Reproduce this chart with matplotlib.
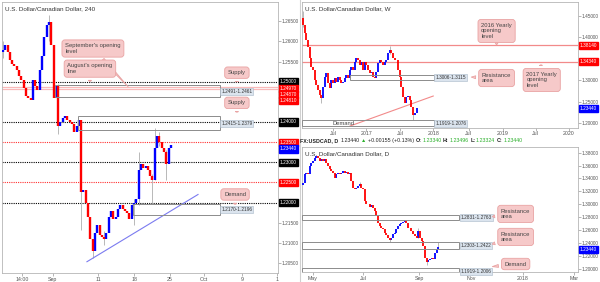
import matplotlib
matplotlib.use("Agg")
import matplotlib.pyplot as plt
import matplotlib.transforms as mtransforms
from matplotlib.patches import Rectangle
from matplotlib.lines import Line2D
import numpy as np

plt.rcParams['font.family'] = ['Liberation Sans', 'DejaVu Sans']

# ---------------- 4H chart (left) ----------------
h4_open0 = 1.2575
h4_close = [1.2580, 1.2590, 1.2575, 1.2555, 1.2545, 1.2540, 1.2530, 1.2515, 1.2505, 1.2485,
            1.2465, 1.2460, 1.2455, 1.2505, 1.2490, 1.2480, 1.2530, 1.2565, 1.2610, 1.2640,
            1.2648, 1.2590, 1.2460, 1.2490, 1.2390, 1.2400, 1.2410, 1.2415, 1.2405, 1.2400,
            1.2395, 1.2375, 1.2390, 1.2405, 1.2225, 1.2230, 1.2200, 1.2165, 1.2110, 1.2080,
            1.2125, 1.2145, 1.2120, 1.2115, 1.2110, 1.2125, 1.2165, 1.2180, 1.2160, 1.2165,
            1.2185, 1.2195, 1.2185, 1.2180, 1.2175, 1.2160, 1.2195, 1.2200, 1.2210, 1.2280,
            1.2295, 1.2285, 1.2290, 1.2280, 1.2265, 1.2255, 1.2335, 1.2365, 1.2350, 1.2335,
            1.2325, 1.2295, 1.2335, 1.2344]
h4_wicks = {0: (1.2560, 1.2600), 20: (1.2600, 1.2665), 24: (1.2370, 1.2495),
            34: (1.2133, 1.2405), 39: (1.2062, 1.2110), 44: (1.2095, 1.2130),
            57: (1.2143, 1.2210), 59: (1.2195, 1.2325), 65: (1.2200, 1.2270),
            66: (1.2255, 1.2385), 68: (1.2340, 1.2375), 71: (1.2255, 1.2330)}
h4_xlabels = ["14:00", "Sep", "11", "18", "25", "Oct", "9", "1"]
h4_black_levels = [1.2500, 1.2400, 1.2300, 1.2200]
h4_red_levels = [1.2350, 1.2250]
h4_open_lines = [1.2487, 1.2481]
h4_zones = [(22.5, 1.2461, 1.2491, "1.2491-1.2461"),
            (32.6, 1.2379, 1.2415, "1.2415-1.2379"),
            (56.5, 1.2170, 1.2196, "1.2170-1.2196")]
h4_trend = ([36.5, 84.8], [1.2053, 1.2220])
h4_tags = [(1.25000, "#000000"), (1.24970, "#ff0000"), (1.24870, "#ff0000"),
           (1.24810, "#ff0000"), (1.24000, "#000000"), (1.23500, "#ff0000"),
           (1.23440, "#0000ff"), (1.23000, "#000000"), (1.22500, "#ff0000"),
           (1.22000, "#000000")]

# ---------------- Weekly chart (top right) ----------------
w_open0 = 1.4450
w_close = [1.4300, 1.4100, 1.3940, 1.3780, 1.3520, 1.3310, 1.3240, 1.3000, 1.2890, 1.2770,
           1.2650, 1.2580, 1.2840, 1.3070, 1.3160, 1.2930, 1.2820, 1.3000, 1.2930, 1.3050,
           1.2960, 1.3070, 1.3000, 1.2930, 1.2960, 1.3050, 1.3120, 1.3050, 1.3240, 1.3310,
           1.3240, 1.3430, 1.3520, 1.3480, 1.3350, 1.3430, 1.3240, 1.3430, 1.3350, 1.3240,
           1.3160, 1.3200, 1.3070, 1.3050, 1.3200, 1.3400, 1.3470, 1.3430, 1.3350, 1.3430,
           1.3470, 1.3630, 1.3700, 1.3630, 1.3520, 1.3480, 1.3470, 1.3240, 1.3070, 1.2840,
           1.2610, 1.2470, 1.2610, 1.2640, 1.2540, 1.2380, 1.2190, 1.2230, 1.2344]
w_wicks = {0: (1.4250, 1.4620), 11: (1.2460, 1.2600), 52: (1.3620, 1.3800), 66: (1.2062, 1.2240)}
w_xlabels = ["Jul", "2017", "Jul", "2018", "Jul", "2019", "Jul", "2020"]
w_yearly_lines = [1.3814, 1.3434]
w_zones = [(28.3, 1.3006, 1.3115, "1.3006-1.3115"),
           (-0.5, 1.1919, 1.2076, "1.1919-1.2076")]
w_trend = ([28.3, 78.0], [1.1930, 1.2630])
w_tags = [(1.38140, "#ff0000"), (1.34340, "#ff0000"), (1.23440, "#0000ff")]

# ---------------- Daily chart (bottom right) ----------------
d_open0 = 1.3300
d_close = [1.3335, 1.3465, 1.3490, 1.3465, 1.3594, 1.3645, 1.3670, 1.3722, 1.3748, 1.3722,
           1.3670, 1.3700, 1.3670, 1.3700, 1.3645, 1.3594, 1.3543, 1.3516, 1.3490, 1.3412,
           1.3465, 1.3490, 1.3465, 1.3490, 1.3516, 1.3490, 1.3500, 1.3465, 1.3490, 1.3361,
           1.3257, 1.3230, 1.3257, 1.3283, 1.3320, 1.3257, 1.3230, 1.3050, 1.3000, 1.3010,
           1.2960, 1.2985, 1.2947, 1.2900, 1.2810, 1.2715, 1.2664, 1.2628, 1.2612, 1.2560,
           1.2518, 1.2480, 1.2440, 1.2480, 1.2534, 1.2560, 1.2612, 1.2664, 1.2690, 1.2715,
           1.2730, 1.2741, 1.2715, 1.2638, 1.2628, 1.2586, 1.2534, 1.2508, 1.2480, 1.2586,
           1.2480, 1.2429, 1.2353, 1.2172, 1.2110, 1.2130, 1.2145, 1.2172, 1.2150, 1.2250,
           1.2302, 1.2344]
d_wicks = {34: (1.3280, 1.3345), 52: (1.2410, 1.2480), 69: (1.2480, 1.2625),
           74: (1.2065, 1.2130), 81: (1.2300, 1.2420)}
d_xlabels = ["May", "Jul", "Sep", "Nov", "2018", "Mar"]
d_zones = [(-0.5, 1.2763, 1.2831, "1.2831-1.2763"),
           (-0.5, 1.2303, 1.2422, "1.2303-1.2422"),
           (-0.5, 1.1919, 1.2006, "1.1919-1.2006")]
d_tags = [(1.23440, "#0000ff")]

# header line (daily quote)
hdr_symbol = "FX:USDCAD, D"
hdr_last = "1.23440"
hdr_change = "+0.00155 (+0.13%)"
hdr_ohlc = [("O:", "1.23340"), ("H:", "1.23496"), ("L:", "1.23324"), ("C:", "1.23440")]

PINK = "#f6c9c9"
PINK_EDGE = "#e9a3a3"
TICK_FS = 3.4

fig = plt.figure(figsize=(6, 2.82), dpi=100)


def px_axes(l, t, r, b):
    return fig.add_axes([l / 600, 1 - b / 282, (r - l) / 600, (b - t) / 282])


def style(ax, hidden=()):
    for s in ax.spines.values():
        s.set_color("#b5b5b5")
        s.set_linewidth(0.6)
    ax.yaxis.tick_right()
    ax.tick_params(labelsize=TICK_FS, colors="#999999", labelcolor="#555555",
                   length=1.8, width=0.5, pad=1)
    ax.tick_params(axis="x", labelsize=3.8)
    # price labels hidden behind the coloured tags
    ax.yaxis.set_major_formatter(matplotlib.ticker.FuncFormatter(
        lambda v, p: "" if any(abs(v - h) < 1e-6 for h in hidden) else f"{v:.5f}"))


def candles(ax, open0, close, wicks, lw):
    close = np.array(close)
    opens = np.concatenate([[open0], close[:-1]])
    x = np.arange(len(close))
    for i, (lo, hi) in wicks.items():
        ax.vlines(i, lo, hi, color="#b8b8b8", lw=0.7, zorder=2)
    up = close >= opens
    ax.vlines(x[up], opens[up], close[up], color="#0000ff", lw=lw, zorder=3)
    ax.vlines(x[~up], opens[~up], close[~up], color="#ff0000", lw=lw, zorder=3)


def zones(ax, zlist, end):
    for start, lo, hi, label in zlist:
        ax.add_patch(Rectangle((start, lo), end - start, hi - lo, fill=False,
                               ec="#8c8c8c", lw=0.7, zorder=4))
        ax.text(end + 0.6, (lo + hi) / 2, label, fontsize=3.4, color="#333333",
                va="center", ha="left", zorder=6,
                bbox=dict(boxstyle="square,pad=0.2", fc="#dbe4ee", ec="#a9b8c8", lw=0.4))


def tag(ax, y, color, shift=0):
    tr = mtransforms.blended_transform_factory(ax.transAxes, ax.transData)
    ax.annotate(f"{y:.5f}", xy=(1.0, y), xycoords=tr, xytext=(1.3, -shift), textcoords="offset points",
                fontsize=TICK_FS, color="white", va="center", ha="left", annotation_clip=False, zorder=10,
                bbox=dict(boxstyle="square,pad=0.22", fc=color, ec=color))


def callout(ax, text, xy, xytext):
    ax.annotate(text, xy=xy, xytext=xytext, fontsize=4.2, color="#444444",
                ha="center", va="center", multialignment="left", zorder=8,
                bbox=dict(boxstyle="round,pad=0.55,rounding_size=0.5", fc=PINK, ec=PINK_EDGE, lw=0.6),
                arrowprops=dict(arrowstyle="wedge,tail_width=0.5,shrink_factor=0.5",
                                fc=PINK, ec=PINK_EDGE, lw=0.6))


# ---------- left: 4H ----------
ax = px_axes(2, 2, 278, 273)
style(ax, hidden=(1.250, 1.245, 1.240, 1.235, 1.230, 1.225, 1.220))
candles(ax, h4_open0, h4_close, h4_wicks, 1.7)
ax.set_xlim(-0.43, 119.57)
ax.set_ylim(1.2025, 1.2698)
ax.set_yticks(np.round(np.arange(1.205, 1.2651, 0.005), 3))
ax.set_xticks([8.3, 21.7, 41.3, 57.0, 72.6, 87.4, 103.9, 119.1])
ax.set_xticklabels(h4_xlabels)
for y in h4_black_levels:
    ax.axhline(y, color="#000000", ls=(0, (1, 1)), lw=0.8, zorder=1)
for y in h4_red_levels:
    ax.axhline(y, color="#ff3030", ls=(0, (1, 1)), lw=0.8, zorder=1)
for y in h4_open_lines:
    ax.axhline(y, color="#f9b9b9", lw=0.9, zorder=1)
zones(ax, h4_zones, 94.3)
ax.plot(*h4_trend, color="#7b7bf0", lw=0.8, zorder=2)
h4_shift = [0, 4.2, 5.4, 7.8, 0, 0, 3.2, 0, 0, 0]
for (y, c), s in zip(h4_tags, h4_shift):
    tag(ax, y, c, s)
callout(ax, "September's opening\nlevel", (55.2, 1.24825), (39.1, 1.25825))
callout(ax, "August's opening\nline", (37.8, 1.2500), (37.8, 1.25325))
callout(ax, "Supply", (101.7, 1.24925), (101.7, 1.25225))
callout(ax, "Supply", (101.7, 1.24175), (101.7, 1.24475))
callout(ax, "Demand", (100.9, 1.2195), (100.9, 1.2220))
ax.text(0.01, 0.985, "U.S. Dollar/Canadian Dollar, 240", transform=ax.transAxes,
        fontsize=4.5, color="#333333", va="top")

# ---------- top right: weekly ----------
ax = px_axes(302, 2, 578, 128)
style(ax, hidden=(1.35,))
candles(ax, w_open0, w_close, w_wicks, 1.3)
ax.set_xlim(-0.5, 164.6)
ax.set_ylim(1.1883, 1.4827)
ax.set_yticks([1.20, 1.25, 1.30, 1.35, 1.40, 1.45])
ax.set_xticks([18.1, 37.9, 58.3, 78.1, 99.1, 119.5, 139.3, 159.1])
ax.set_xticklabels(w_xlabels)
ax.tick_params(axis="x", pad=0.5)
for y in w_yearly_lines:
    ax.axhline(y, color="#f28a8a", lw=0.9, zorder=1)
zones(ax, w_zones, 78.7)
ax.text(17.5, 1.1985, "Demand", fontsize=4.2, color="#444444", va="center", zorder=6)
ax.plot(*w_trend, color="#f28a8a", lw=0.8, zorder=2)
for y, c in w_tags:
    tag(ax, y, c)
callout(ax, "2016 Yearly\nopening\nlevel", (115.9, 1.3822), (115.9, 1.4150))
callout(ax, "Resistance\narea", (99.1, 1.3075), (115.9, 1.3051))
callout(ax, "2017 Yearly\nopening\nlevel", (142.3, 1.3425), (142.9, 1.3005))
ax.text(0.01, 0.965, "U.S. Dollar/Canadian Dollar, W", transform=ax.transAxes,
        fontsize=4.5, color="#333333", va="top")

# ---------- bottom right: daily ----------
ax = px_axes(302, 147, 578, 272)
style(ax)
candles(ax, d_open0, d_close, d_wicks, 1.3)
ax.set_xlim(-0.5, 164.6)
ax.set_ylim(1.1949, 1.3888)
ax.set_yticks(np.round(np.arange(1.20, 1.3801, 0.02), 2))
ax.set_xticks([6.1, 36.1, 69.7, 100.9, 131.5, 162.1])
ax.set_xticklabels(d_xlabels)
zones(ax, d_zones, 93.7)
for y, c in d_tags:
    tag(ax, y, c, 2)
callout(ax, "Resistance\narea", (111.7, 1.2803), (127.3, 1.2850))
callout(ax, "Resistance\narea", (111.7, 1.2369), (127.3, 1.2493))
callout(ax, "Demand", (111.7, 1.2028), (127.3, 1.2073))
ax.text(0.01, 0.965, "U.S. Dollar/Canadian Dollar, D", transform=ax.transAxes,
        fontsize=4.5, color="#333333", va="top")

# ---------- header line between right panels ----------
GREEN = "#2bb02b"
pieces = [(hdr_symbol, "#222222", "bold"), (hdr_last, "#222222", "normal"),
          ("\u25b2", GREEN, "normal"), (hdr_change, "#222222", "normal")]
for k, v in hdr_ohlc:
    pieces += [(k, "#222222", "bold"), (v, GREEN, "normal")]
renderer = fig.canvas.get_renderer()
xp = 300.5
for s, c, w in pieces:
    t = fig.text(xp / 600, 1 - 140.5 / 282, s, fontsize=3.8, color=c, weight=w, va="center")
    bb = t.get_window_extent(renderer)
    xp = bb.x1 + (0.8 if s.endswith(":") else 1.6)

fig.add_artist(Line2D([299.5 / 600, 299.5 / 600], [0, 1], color="#d0d0d0", lw=0.8))

fig.savefig("out.png", dpi=100)
